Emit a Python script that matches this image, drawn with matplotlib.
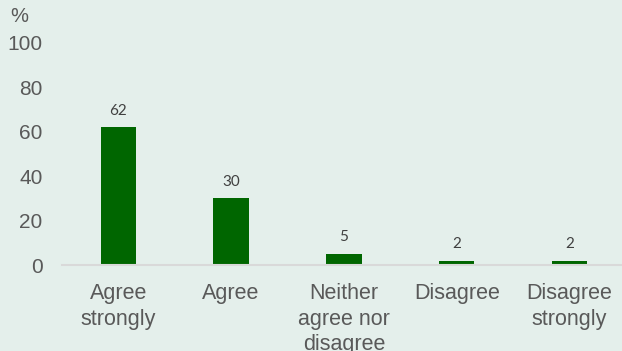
import matplotlib
matplotlib.use('Agg')
import matplotlib.pyplot as plt

categories = ['Agree\nstrongly', 'Agree', 'Neither\nagree nor\ndisagree', 'Disagree', 'Disagree\nstrongly']
values = [62, 30, 5, 2, 2]
yticks = [0, 20, 40, 60, 80, 100]

bg = '#E4EFEB'
bar_color = '#006600'

def main():
	fig = plt.figure(figsize=(6.22, 3.51), dpi=100, facecolor=bg)
	ax = fig.add_axes([0.0995, 0.245, 0.9068, 0.6325], facecolor=bg)
	x = range(len(values))
	ax.bar(x, values, width=0.313, color=bar_color, zorder=2)
	for i, v in enumerate(values):
		ax.annotate(str(v), (i, v), xytext=(0, 7), textcoords='offset points',
			ha='center', va='bottom', fontsize=11, color='#404040', family='Lato')
	ax.set_xlim(-0.5, 4.5)
	ax.set_ylim(0, 100)
	ax.set_yticks(yticks)
	ax.set_xticks(list(x))
	ax.set_xticklabels(categories, linespacing=1.28)
	ax.tick_params(axis='both', length=0, labelsize=15, labelcolor='#595959')
	ax.tick_params(axis='x', labelsize=15.5, pad=13)
	ax.tick_params(axis='y', pad=14)
	for lbl in ax.get_xticklabels() + ax.get_yticklabels():
		lbl.set_family('Liberation Sans')
	for s in ['top', 'right', 'left']:
		ax.spines[s].set_visible(False)
	ax.spines['bottom'].set_color('#D9D9D9')
	ax.spines['bottom'].set_linewidth(1.5)
	fig.text(10 / 622, 1 - 17 / 351, '%', fontsize=14.5, color='#595959',
		family='Liberation Sans', ha='left', va='center')
	fig.savefig('out.png', dpi=100, facecolor=bg)

if __name__ == '__main__':
	main()
